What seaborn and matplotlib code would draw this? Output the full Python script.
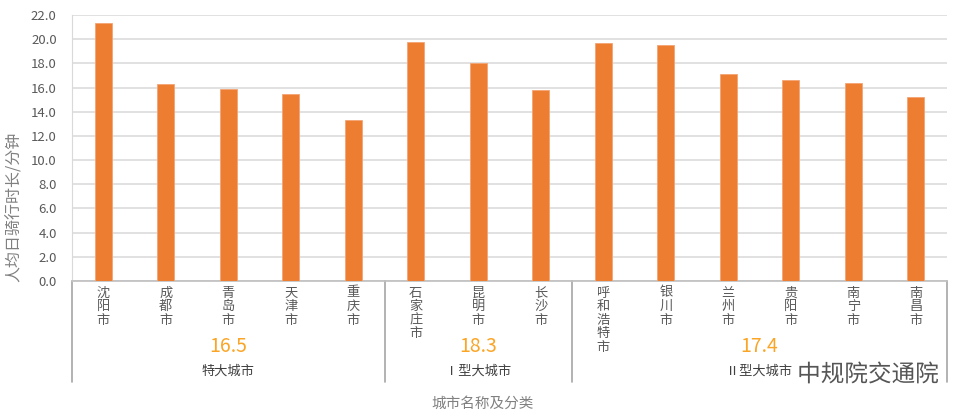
import matplotlib
matplotlib.use("Agg")
import matplotlib.pyplot as plt
import matplotlib.patheffects as pe
import pandas as pd
import seaborn as sns

CITIES = ["沈阳市", "成都市", "青岛市", "天津市", "重庆市",
          "石家庄市", "昆明市", "长沙市",
          "呼和浩特市", "银川市", "兰州市", "贵阳市", "南宁市", "南昌市"]
MINUTES = [21.3, 16.3, 15.9, 15.5, 13.3,
           19.8, 18.0, 15.8,
           19.7, 19.5, 17.1, 16.6, 16.4, 15.2]
GROUPS = ["特大城市", "Ⅰ型大城市", "Ⅱ型大城市"]
GROUP_SIZES = [5, 3, 6]
GROUP_AVG = ["16.5", "18.3", "17.4"]
Y_TICKS = [0, 2, 4, 6, 8, 10, 12, 14, 16, 18, 20, 22]

BAR_COLOR = "#ED7D31"
TEXT_GRAY = "#595959"

df = pd.DataFrame({"city": CITIES, "minutes": MINUTES})

sns.set_style("white")
plt.rcParams["font.family"] = ["Noto Sans CJK SC", "DejaVu Sans"]

fig = plt.figure(figsize=(9.71, 4.18), dpi=100)
ax = fig.add_axes([72 / 971, 1 - 281 / 418, (947 - 72) / 971, (281 - 15) / 418])

sns.barplot(data=df, x="city", y="minutes", color=BAR_COLOR, width=0.27,
            saturation=1, edgecolor="#F4A574", linewidth=0.6, ax=ax, zorder=3)

ax.set_xlim(-0.5, len(CITIES) - 0.5)
ax.set_ylim(0, 22)
ax.set_yticks(Y_TICKS, [f"{v:.1f}" for v in Y_TICKS])
ax.grid(axis="y", color="#D9D9D9", linewidth=1.1, zorder=0)
ax.set_axisbelow(True)

ax.set_xticks(range(len(CITIES)), ["\n".join(c) for c in CITIES], linespacing=1.05)
ax.tick_params(axis="x", length=0, pad=4, labelsize=9.5, labelcolor=TEXT_GRAY)
ax.tick_params(axis="y", length=0, pad=11, labelsize=9.5, labelcolor=TEXT_GRAY)
for lab in ax.get_xticklabels():
    lab.set_verticalalignment("top")

for side in ["top", "right"]:
    ax.spines[side].set_visible(False)
ax.spines["left"].set_color("#D9D9D9")
ax.spines["bottom"].set_color("#BFBFBF")
ax.spines["bottom"].set_linewidth(1.2)
ax.set_xlabel("")
ax.set_ylabel("")

# group separators and labels under the axis
trans = ax.get_xaxis_transform()
edges = [-0.5]
for n in GROUP_SIZES:
    edges.append(edges[-1] + n)
for e in edges:
    ax.plot([e, e], [0, -0.38], transform=trans, color="#A6A6A6",
            linewidth=1.2, clip_on=False)
for i, (name, avg) in enumerate(zip(GROUPS, GROUP_AVG)):
    mid = (edges[i] + edges[i + 1]) / 2
    ax.text(mid, -0.245, avg, transform=trans, ha="center", va="center",
            fontsize=14, color="#FBA526")
    ax.text(mid, -0.34, name, transform=trans, ha="center", va="center",
            fontsize=9.5, color="#404040")

fig.text(14 / 971, 1 - 207 / 418, "人均日骑行时长/分钟", rotation=90,
         ha="center", va="center", fontsize=11.5, color="#808080")
fig.text(483 / 971, 1 - 404 / 418, "城市名称及分类",
         ha="center", va="center", fontsize=10.5, color="#808080")

# watermark
fig.text(868 / 971, 1 - 375 / 418, "中规院交通院", ha="center", va="center",
         fontsize=17, color="#555555",
         path_effects=[pe.withStroke(linewidth=2.5, foreground="white")])

fig.savefig("out.png", dpi=100)
